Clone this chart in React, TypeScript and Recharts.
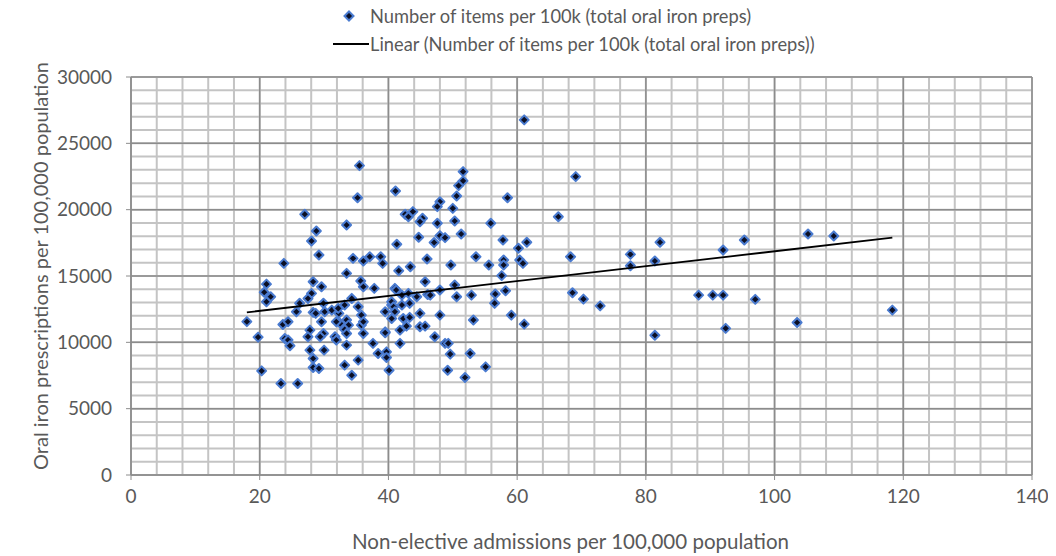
import React from 'react'
import { ScatterChart, Scatter, XAxis, YAxis, CartesianGrid } from 'recharts'

// Non-elective admissions per 100,000 population (x)
const admissions = [
  18.0, 19.75, 20.3, 23.3, 25.9, 21.05, 20.7, 21.7, 21.05, 23.6,
  24.4, 23.9, 24.4, 24.7, 25.7, 26.2, 28.3, 29.6, 28.05, 27.5,
  28.3, 28.7, 29.9, 30.1, 29.6, 31.2, 32.3, 32.2, 33.2, 34.3,
  35.3, 35.8, 32.5, 33.5, 33.8, 33.2, 33.5, 36.1, 35.8, 39.5,
  40.5, 40.5, 39.5, 41.8, 27.8, 27.5, 29.9, 29.4, 27.8, 30.0,
  28.3, 28.3, 29.2, 31.7, 31.9, 33.5, 33.2, 34.3, 35.3, 37.6,
  38.4, 39.7, 39.7, 40.1, 36.1, 31.9, 23.75, 27.0, 28.8, 28.05,
  29.2, 33.5, 35.5, 35.2, 41.1, 41.3, 34.5, 36.1, 37.1, 38.8,
  39.1, 41.6, 33.5, 35.7, 36.1, 37.8, 41.0, 61.1, 51.6, 51.6,
  50.9, 50.6, 58.5, 48.0, 47.6, 50.0, 42.6, 43.8, 43.1, 45.3,
  44.9, 50.3, 47.6, 55.9, 44.7, 48.0, 48.8, 51.3, 47.1, 57.8,
  61.5, 60.2, 46.0, 53.6, 57.9, 57.9, 60.4, 60.9, 43.4, 49.7,
  55.6, 57.6, 45.7, 50.3, 58.2, 48.0, 46.1, 52.9, 56.6, 41.2,
  42.1, 43.1, 44.4, 46.5, 50.6, 56.5, 40.5, 40.8, 42.1, 43.3,
  41.0, 44.9, 48.0, 59.1, 42.3, 43.3, 53.2, 61.1, 42.8, 44.9,
  45.7, 39.5, 47.2, 41.8, 48.8, 49.3, 49.6, 52.7, 49.2, 55.1,
  51.9, 69.1, 66.4, 68.3, 77.6, 77.6, 81.4, 82.2, 92.0, 68.6,
  70.3, 72.9, 81.4, 88.2, 90.4, 92.0, 92.4, 95.3, 105.2, 109.2,
  97.0, 103.5, 118.3,
]

// Oral iron prescription items per 100,000 population (y)
const ironItems = [
  11560, 10390, 7850, 6900, 6900, 14390, 13770, 13430, 13060, 11350,
  11550, 10290, 10170, 9740, 12300, 12940, 14570, 14190, 13690, 13310,
  12260, 12180, 12940, 12300, 11550, 12430, 12180, 12560, 12810, 13310,
  12680, 12050, 11430, 11680, 11300, 10970, 10670, 10670, 11300, 12300,
  12810, 11800, 10790, 10920, 10920, 10420, 10670, 10420, 9410, 9410,
  8780, 8100, 8030, 10420, 10170, 9790, 8280, 7520, 8660, 9920,
  9160, 9280, 8860, 7900, 11550, 11550, 15950, 19650, 18390, 17640,
  16580, 18850, 23320, 20900, 21410, 17390, 16330, 16130, 16450, 16450,
  15950, 15400, 15200, 14620, 14190, 14070, 14070, 26770, 22870, 22170,
  21810, 21030, 20900, 20600, 20230, 20100, 19650, 19850, 19470, 19350,
  19090, 19150, 18970, 18970, 17920, 18040, 17890, 18170, 17520, 17710,
  17540, 17090, 16280, 16450, 16200, 15830, 16200, 15950, 15700, 15830,
  15830, 15030, 14570, 14320, 13890, 13940, 13610, 13560, 13640, 13940,
  13560, 13690, 13430, 13560, 13430, 12940, 13060, 12680, 12810, 12940,
  12300, 12180, 12050, 12050, 11800, 11880, 11680, 11370, 11220, 11170,
  11220, 10720, 10420, 9920, 9920, 9920, 9110, 9160, 7900, 8150,
  7350, 22490, 19470, 16450, 16630, 15770, 16130, 17540, 16960, 13740,
  13260, 12750, 10540, 13560, 13560, 13560, 11050, 17710, 18170, 18020,
  13240, 11500, 12430,
]

// linear trendline end points as drawn
const trendX = [18.0, 118.3]
const trendY = [12260, 17890]

const xTicks = [0, 20, 40, 60, 80, 100, 120, 140]
const yTicks = [0, 5000, 10000, 15000, 20000, 25000, 30000]
const xMinor = Array.from({ length: 36 }, (_, i) => i * 4)
const yMinor = Array.from({ length: 31 }, (_, i) => i * 1000)

const seriesName = 'Number of items per 100k (total oral iron preps)'
const trendName = 'Linear (Number of items per 100k (total oral iron preps))'

const points = admissions.map((x, i) => ({ x, y: ironItems[i] }))
const trend = trendX.map((x, i) => ({ x, y: trendY[i] }))

const FONT = 'Lato, "Open Sans", sans-serif'
const TEXT = '#595959'

const Diamond = (props: any) => {
  const { cx, cy } = props
  const r = 4.5
  return (
    <polygon
      points={`${cx},${cy - r} ${cx + r},${cy} ${cx},${cy + r} ${cx - r},${cy}`}
      fill="#0b0f24"
      stroke="#4a7bd0"
      strokeWidth={2}
      strokeLinejoin="round"
    />
  )
}

const YTitle = ({ viewBox }: any) => {
  const cx = 40
  const cy = viewBox.y + viewBox.height / 2 - 10
  return (
    <text
      x={cx}
      y={cy}
      transform={`rotate(-90 ${cx} ${cy})`}
      textAnchor="middle"
      dominantBaseline="central"
      fill={TEXT}
      fontSize={20}
      fontFamily={FONT}
    >
      Oral iron prescriptions per 100,000 population
    </text>
  )
}

const XTitle = ({ viewBox }: any) => {
  const cx = viewBox.x + viewBox.width / 2 - 11
  return (
    <text x={cx} y={541} textAnchor="middle" dominantBaseline="central" fill={TEXT} fontSize={20.5} fontFamily={FONT}>
      Non-elective admissions per 100,000 population
    </text>
  )
}

export default function App() {
  return (
    <div style={{ position: 'relative', width: 1056, height: 556, margin: '-8px 0 0 -8px', background: '#fff', fontFamily: FONT }}>
      <ScatterChart width={1056} height={556} margin={{ top: 77, right: 24, left: 0, bottom: 0 }}>
        <CartesianGrid verticalValues={xMinor} horizontalValues={yMinor} stroke="#c4c4c4" strokeWidth={2} />
        <CartesianGrid verticalValues={xTicks} horizontalValues={yTicks} stroke="#8c8c8c" strokeWidth={1.5} />
        <XAxis
          type="number"
          dataKey="x"
          domain={[0, 140]}
          ticks={xTicks}
          interval={0}
          height={81}
          tickSize={5}
          tickMargin={10}
          stroke="#8c8c8c"
          tick={{ fill: TEXT, fontSize: 19, fontFamily: FONT }}
          label={<XTitle />}
        />
        <YAxis
          type="number"
          dataKey="y"
          domain={[0, 30000]}
          ticks={yTicks}
          interval={0}
          width={131}
          tickSize={5}
          tickMargin={14}
          stroke="#8c8c8c"
          tick={{ fill: TEXT, fontSize: 19, fontFamily: FONT }}
          label={<YTitle />}
        />
        <Scatter name={seriesName} data={points} shape={Diamond} isAnimationActive={false} />
        <Scatter
          name={trendName}
          data={trend}
          line={{ stroke: '#000', strokeWidth: 1.8 }}
          lineType="joint"
          shape={() => <g />}
          isAnimationActive={false}
        />
      </ScatterChart>
      <div style={{ position: 'absolute', top: 2, left: 333, fontSize: 18.3, color: TEXT, lineHeight: '28px', whiteSpace: 'nowrap' }}>
        <div style={{ display: 'flex', alignItems: 'center' }}>
          <svg width={37} height={14}>
            <polygon points="16,2.5 20.5,7 16,11.5 11.5,7" fill="#0b0f24" stroke="#4a7bd0" strokeWidth={2} />
          </svg>
          <span>{seriesName}</span>
        </div>
        <div style={{ display: 'flex', alignItems: 'center' }}>
          <svg width={37} height={14}>
            <line x1={0} y1={7} x2={36} y2={7} stroke="#000" strokeWidth={2} />
          </svg>
          <span>{trendName}</span>
        </div>
      </div>
    </div>
  )
}
